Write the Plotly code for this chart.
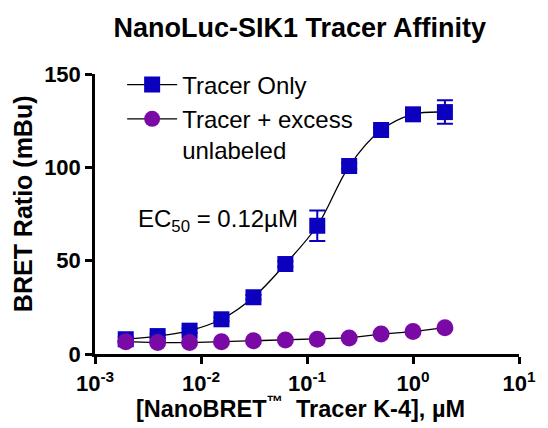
import plotly.graph_objects as go

# Tracer concentration (µM), 2-fold dilution series
conc_uM = [0.00195, 0.0039, 0.0078, 0.0156, 0.03125, 0.0625, 0.125, 0.25, 0.5, 1.0, 2.0]
# BRET ratio (mBu)
tracer_only = [7.9, 9.6, 12.5, 18.6, 30.4, 48.2, 68.7, 100.7, 120.0, 128.4, 129.6]
tracer_only_err = [1.0, 1.0, 1.2, 1.0, 1.2, 1.5, 8.2, 1.5, 1.5, 2.0, 6.3]
tracer_excess = [6.6, 6.1, 6.1, 6.6, 7.1, 7.5, 7.9, 8.6, 10.7, 12.0, 14.1]

x_tickvals = [0.001, 0.01, 0.1, 1, 10]
x_ticktext = ["<b>10<sup>-3</sup></b>", "<b>10<sup>-2</sup></b>", "<b>10<sup>-1</sup></b>",
              "<b>10<sup>0</sup></b>", "<b>10<sup>1</sup></b>"]
y_tickvals = [0, 50, 100, 150]

FONT = "Liberation Sans, Arial, sans-serif"
BLUE = "#0A00BE"
PURPLE = "#7A0AA6"

fig = go.Figure()
fig.add_trace(go.Scatter(
    x=conc_uM, y=tracer_only, name="Tracer Only",
    mode="lines+markers",
    line=dict(color="black", width=1.3, shape="spline", smoothing=1.0),
    marker=dict(symbol="square", size=16, color=BLUE),
    error_y=dict(type="data", array=tracer_only_err, color=BLUE, thickness=2, width=8),
))
fig.add_trace(go.Scatter(
    x=conc_uM, y=tracer_excess, name="Tracer + excess<br>unlabeled",
    mode="lines+markers",
    line=dict(color="black", width=1.3),
    marker=dict(symbol="circle", size=17, color=PURPLE),
))

fig.update_layout(
    width=548, height=428,
    margin=dict(l=95, r=17, t=74, b=74),
    paper_bgcolor="white", plot_bgcolor="white",
    font=dict(family=FONT, color="black"),
    title=dict(text="<b>NanoLuc-SIK1 Tracer Affinity</b>", x=0.547, y=0.935,
               xanchor="center", yanchor="middle", font=dict(size=27, family=FONT)),
    showlegend=True,
    legend=dict(x=0.064, y=1.041, xanchor="left", yanchor="top",
                font=dict(size=24, family=FONT), bgcolor="rgba(0,0,0,0)",
                itemwidth=50, valign="top", tracegroupgap=6),
    xaxis=dict(type="log", range=[-3, 1], tickvals=x_tickvals, ticktext=x_ticktext,
               showline=True, linecolor="black", linewidth=2.5, ticks="outside",
               ticklen=7, tickwidth=2.5, tickcolor="black", showgrid=False, zeroline=False,
               tickfont=dict(size=22, family=FONT), ticklabelstandoff=1),
    yaxis=dict(range=[0, 150], tickvals=y_tickvals,
               showline=True, linecolor="black", linewidth=2.5, ticks="outside",
               ticklen=7, tickwidth=2.5, tickcolor="black", showgrid=False, zeroline=False,
               tickfont=dict(size=22, family=FONT, weight="bold"), ticklabelstandoff=0),
    annotations=[
        dict(text="<b>[NanoBRET<sup>™</sup>  Tracer K-4], µM</b>", xref="paper", yref="paper",
             x=0.484, y=-0.19, xanchor="center", yanchor="middle", showarrow=False,
             font=dict(size=23.5, family=FONT)),
        dict(text="<b>BRET Ratio (mBu)</b>", xref="paper", yref="paper", textangle=-90,
             x=-0.168, y=0.538, xanchor="center", yanchor="middle", showarrow=False,
             font=dict(size=25, family=FONT)),
        dict(text="EC<sub>50</sub> = 0.12µM", xref="paper", yref="paper",
             x=0.291, y=0.476, xanchor="center", yanchor="middle", showarrow=False,
             font=dict(size=24, family=FONT)),
    ],
)

fig.write_html("out.html", config={"displayModeBar": False},
               post_script="document.body.style.margin='0px';")
